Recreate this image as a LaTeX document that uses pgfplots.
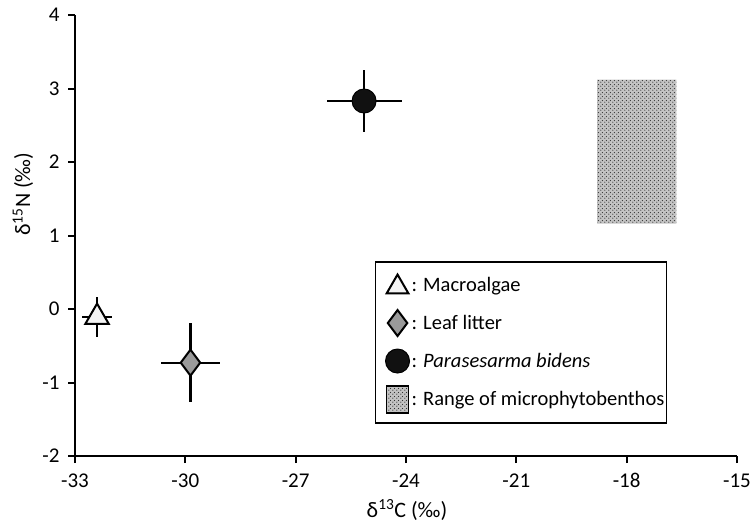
\documentclass[border=0pt]{standalone}
\usepackage{fontspec}
\setmainfont{Carlito}
\usepackage{pgfplots}
\pgfplotsset{compat=1.18}
\usetikzlibrary{patterns,patterns.meta}

\definecolor{algaefill}{HTML}{F4F4F4}
\definecolor{leafgray}{HTML}{9A9A9A}
\definecolor{crabblack}{HTML}{111111}
\definecolor{rangegray}{HTML}{C4C4C4}

\tikzdeclarepattern{
  name=benthosdots,
  type=uncolored,
  bottom left={(0bp,0bp)},
  top right={(4bp,4bp)},
  tile size={(4bp,4bp)},
  code={
    \fill (1bp,1bp) circle (0.75bp);
    \fill (3bp,3bp) circle (0.75bp);
  }
}

\begin{document}
\begin{tikzpicture}
\useasboundingbox (-75bp,-67bp) rectangle (678bp,456bp);
\begin{axis}[
  at={(0,0)}, anchor=south west,
  scale only axis, width=662bp, height=441bp,
  xmin=-33, xmax=-15, ymin=-2, ymax=4,
  clip=false,
  axis x line*=bottom, axis y line*=left,
  axis line style={line width=2bp, -},
  xtick={-33,-30,-27,-24,-21,-18,-15},
  xticklabels={-33,-30,-27,-24,-21,-18,-15},
  ytick={-2,-1,0,1,2,3,4},
  yticklabels={-2,-1,0,1,2,3,4},
  tick align=outside, major tick length=7bp,
  tick style={line width=2bp, black},
  ticklabel style={font=\fontsize{21bp}{24bp}\selectfont},
  yticklabel style={xshift=-5bp},
  xticklabel style={yshift=-7bp},
  label style={font=\fontsize{22bp}{26bp}\selectfont},
  xlabel={δ\textsuperscript{13}C (‰)},
  ylabel={δ\textsuperscript{15}N (‰)},
  xlabel style={at={(axis description cs:0.5015,-0.122)}, anchor=center},
  ylabel style={at={(axis description cs:-0.0785,0.594)}, anchor=center},
  legend cell align=left,
  legend style={at={(axis cs:-24.85,0.65)}, anchor=north west,
    draw=black, line width=1.6bp,
    font=\fontsize{20.5bp}{24bp}\selectfont,
    inner xsep=0bp, inner ysep=9bp, row sep=10bp,
    /tikz/every even column/.append style={column sep=1bp}},
  error bars/error bar style={line width=2.2bp, black},
]

% range of microphytobenthos (behind everything, listed last in the legend)
\addplot[draw=none, fill=rangegray,
  postaction={pattern={benthosdots}, pattern color=black!80},
  forget plot] coordinates {
  (-18.8,1.16) (-16.65,1.16) (-16.65,3.12) (-18.8,3.12) (-18.8,1.16)
};

% macroalgae
\addplot[only marks, mark=triangle*, mark size=13.5bp,
  mark options={fill=algaefill, draw=black, line width=2bp},
  legend image code/.code={
    \path[draw=none, fill=none] (0bp,-14bp) rectangle (34bp,14bp);
    \draw[mark=triangle*, mark size=12.5bp,
      mark options={fill=algaefill, draw=black, line width=2bp}]
      plot coordinates {(22bp,-2bp)};},
  error bars/.cd, x dir=both, x explicit, y dir=both, y explicit,
  error mark=none]
  coordinates {(-32.4,-0.11) +- (0.41,0.27)};
\addlegendentry{: Macroalgae}

% leaf litter
\addplot[only marks, mark=diamond*, mark size=13bp,
  mark options={fill=leafgray, draw=black, line width=2bp},
  legend image code/.code={
    \path[draw=none, fill=none] (0bp,-14bp) rectangle (34bp,14bp);
    \draw[mark=diamond*, mark size=13bp,
      mark options={fill=leafgray, draw=black, line width=2bp}]
      plot coordinates {(22bp,0bp)};},
  error bars/.cd, x dir=both, x explicit, y dir=both, y explicit,
  error mark=none]
  coordinates {(-29.86,-0.73) +- (0.8,0.54)};
\addlegendentry{: Leaf litter}

% Parasesarma bidens
\addplot[only marks, mark=*, mark size=12bp,
  mark options={fill=crabblack, draw=black, line width=1bp},
  legend image code/.code={
    \path[draw=none, fill=none] (0bp,-14bp) rectangle (34bp,14bp);
    \draw[mark=*, mark size=12bp,
      mark options={fill=crabblack, draw=black, line width=1bp}]
      plot coordinates {(22bp,0bp)};},
  error bars/.cd, x dir=both, x explicit, y dir=both, y explicit,
  error mark=none]
  coordinates {(-25.14,2.83) +- (1.02,0.42)};
\addlegendentry{: \textit{Parasesarma bidens}}

% legend entry for the range box
\addlegendimage{legend image code/.code={
    \path[draw=none, fill=none] (0bp,-14bp) rectangle (34bp,14bp);
    \fill[rangegray] (11bp,-14bp) rectangle (33bp,13bp);
    \fill[pattern={benthosdots}, pattern color=black!80]
      (11bp,-14bp) rectangle (33bp,13bp);}}
\addlegendentry{: Range of microphytobenthos}

\end{axis}
\end{tikzpicture}
\end{document}
